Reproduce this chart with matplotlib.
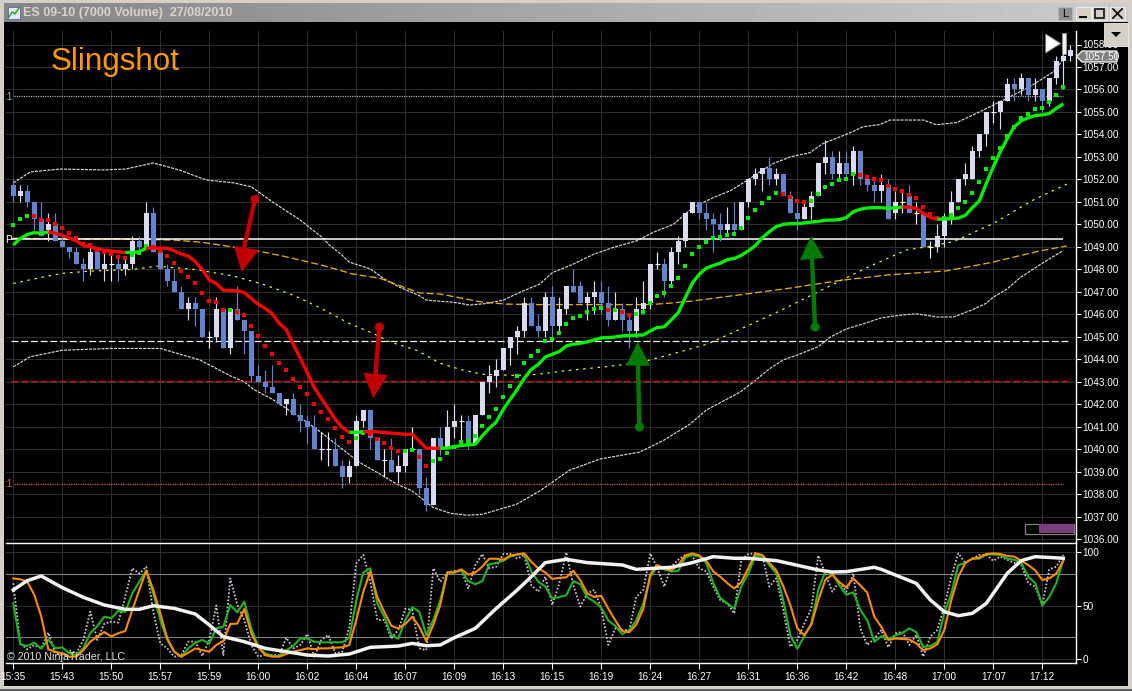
import matplotlib
matplotlib.use("Agg")
import matplotlib.pyplot as plt
from matplotlib.patches import Polygon, Rectangle, Circle
import numpy as np

plt.rcParams['font.family'] = ['Liberation Sans', 'DejaVu Sans']
plt.rcParams['lines.scale_dashes'] = False

W, H = 1132, 691

# ---------- candles (bar index = position in the list) ----------
open_ = [1051.75,1051.25,1051.5,1051,1050.25,1049.75,1050,1049.25,1049,1048.75,
 1048.25,1048,1048.75,1048,1048.25,1048.25,1048,1048.25,1049.25,1049,
 1050.5,1048.75,1048,1047.5,1047,1046.25,1046.5,1046.25,1045,1045,
 1046.25,1044.5,1046.25,1045.75,1045.25,1043.25,1043,1042.75,1042.5,1042,
 1042.25,1041.5,1041.25,1041,1040,1040,1040,1039.25,1038.75,1039.25,
 1041.25,1041.75,1040.5,1039.5,1039.5,1039,1039.25,1040,1040,1038.25,
 1037.5,1040.5,1040,1041,1041.25,1041.25,1040.25,1041.5,1043,1043.25,
 1043.5,1044.5,1045,1045.25,1046.5,1045.5,1045.25,1046.75,1045.5,1046.25,
 1047.25,1047.25,1046.5,1046.75,1047,1046.5,1045.75,1046.25,1045.75,1045.25,
 1046.25,1046.5,1048.25,1048.25,1047.5,1048.75,1049.25,1050.5,1051,1050.5,
 1050.25,1050,1049.75,1050,1049.75,1051,1052,1052.25,1052.5,1052,
 1052.25,1051.25,1050.5,1050.25,1050.75,1051.25,1052.75,1053,1052.25,1052.75,
 1052.25,1053.25,1052,1051.75,1051.5,1051.75,1050.5,1051,1051.25,1050.5,
 1050.5,1049,1049,1049.5,1050.25,1051,1052,1052,1053.25,1054,
 1055,1055,1055.5,1056.25,1056,1056.5,1055.75,1056,1055.5,1056.5,1057.25,1057.5]
close = [1051.25,1051.5,1051,1050.25,1049.5,1050,1049.25,1049,1048.75,1048.25,
 1048,1048.75,1048,1048.25,1048.25,1048,1048.25,1049.25,1049,1050.5,
 1048.75,1048,1047.5,1047,1046.25,1046.5,1046.25,1045,1045,1046.25,
 1044.5,1046.25,1045.75,1045.25,1043.25,1043,1042.75,1042.5,1042,1042.25,
 1041.5,1041.25,1041,1040,1040,1040,1039.25,1038.75,1039.25,1041.25,
 1041.75,1040.5,1039.5,1039.5,1039,1039.25,1040,1040,1038.25,1037.5,
 1040.5,1040,1041,1041.25,1041.25,1040.25,1041.5,1043,1043.25,1043.5,
 1044.5,1045,1045.25,1046.5,1045.5,1045.25,1046.75,1045.5,1046.25,1047.25,
 1047,1046.5,1046.75,1047,1046.5,1045.75,1046.25,1045.75,1045.25,1046.25,
 1046.5,1048.25,1048.25,1047.5,1048.75,1049.25,1050.5,1051,1050.5,1050.25,
 1050,1049.75,1050,1049.75,1051,1052,1052.25,1052.5,1052,1052.25,
 1051.25,1050.5,1050.25,1050.75,1051.25,1052.75,1053,1052.25,1052.75,1052.25,
 1053.25,1052,1051.75,1051.5,1051.75,1050.25,1051,1051,1050.5,1050.5,
 1049,1049,1049.5,1050.25,1051,1052,1052.25,1053.25,1054,1055,
 1055,1055.5,1056.25,1056,1056.5,1055.75,1056,1055.5,1056.5,1057.25,1057.5,1057.75]
high = [1052,1051.75,1051.75,1051,1051,1050.5,1050.5,1049.5,1049,1049,
 1048.5,1049,1049,1048.75,1048.75,1048.5,1048.5,1049.5,1049.5,1051,
 1050.75,1048.75,1048.25,1048,1047.25,1046.75,1046.75,1046.25,1045.25,1046.75,
 1046.25,1046.25,1047.25,1045.75,1045.25,1043.75,1043.5,1043.75,1042.5,1042.25,
 1042.5,1042,1041.5,1041.5,1040.75,1040.75,1040.5,1039.5,1039.5,1041.5,
 1041.75,1041.75,1040.5,1040,1040.5,1039.75,1040,1041,1040,1038.75,
 1040.5,1041,1041.75,1042,1041.5,1041.5,1041.5,1043,1043.75,1044,
 1044.5,1045,1045.5,1046.75,1046.75,1046,1047,1047.25,1046.75,1047.25,
 1048,1047.5,1047,1047.5,1047.5,1047.25,1047,1046.5,1046,1046.75,
 1047.5,1048.25,1048.75,1048.5,1049,1049.5,1050.5,1051,1051,1051,
 1050.5,1050.5,1050.75,1051,1051,1052,1052.5,1052.5,1053,1052.5,
 1052.25,1051.5,1051,1051,1051.5,1052.75,1053.75,1053.25,1053.25,1053.25,
 1053.5,1053.25,1052.25,1052,1052.25,1052,1051.5,1051.5,1051.75,1051,
 1050.5,1049.25,1050,1050.5,1051.5,1052,1052.75,1053.5,1054,1055,
 1055.5,1055.5,1056.5,1056.5,1056.75,1056.5,1056.5,1056,1056.5,1057.5,1058,1058]
low = [1051,1051,1050.75,1049.75,1049.5,1049.25,1049.25,1049,1048.5,1048.25,
 1047.5,1047.75,1048,1047.5,1047.5,1047.5,1047.75,1048,1048.75,1049,
 1048.75,1048,1047.25,1047,1046.25,1045.75,1045.5,1045,1044.5,1044.75,
 1044.5,1044.25,1045.75,1044.25,1043,1043,1042.5,1042.5,1042,1041.5,
 1041.5,1040.75,1040.25,1040,1039.5,1039.25,1039.25,1038.25,1038.5,1039.25,
 1041,1040,1039.5,1038.75,1039,1038.5,1039,1040,1038,1037.25,
 1037.5,1039.75,1040,1040.5,1040.25,1040,1040.25,1041.5,1042.5,1042.75,
 1043.5,1043.75,1044.25,1045,1045.5,1045,1045,1045,1045.25,1046,
 1047,1046.5,1045.75,1046,1046,1045.5,1045.75,1045.25,1044.5,1045,
 1046,1046.25,1048,1046.75,1047.25,1048.25,1049,1050.5,1050.25,1049.75,
 1048.75,1049.25,1049.5,1049.5,1049.75,1050.75,1051.75,1051.5,1051.75,1051.75,
 1051.25,1050.5,1049.75,1050.25,1050.25,1051.25,1052.25,1052,1052,1052,
 1051.75,1051.75,1051.5,1051,1051,1050.25,1050.25,1050.5,1050.5,1050,
 1049,1048.5,1048.75,1049,1050,1051,1051.75,1052,1053,1053.5,
 1054.5,1054.25,1055.5,1055.5,1055.75,1055.5,1055.5,1055,1055.25,1056.25,1056,1057.25]

# ---------- thick trend line ----------
trend = [1049.08,1049.37,1049.55,1049.63,1049.6,1049.66,1049.6,1049.51,1049.39,1049.27,
 1049.06,1049.0,1048.91,1048.85,1048.81,1048.78,1048.75,1048.75,1048.78,1048.94,
 1048.94,1048.94,1048.94,1048.82,1048.68,1048.59,1048.34,1047.99,1047.52,1047.37,
 1047.07,1047.06,1047.04,1046.97,1046.7,1046.44,1046.26,1046.02,1045.59,1045.32,
 1044.67,1044.04,1043.41,1042.74,1042.26,1041.8,1041.33,1040.96,1040.75,1040.75,
 1040.78,1040.78,1040.77,1040.74,1040.71,1040.69,1040.66,1040.66,1040.36,1040.04,
 1040.04,1040.04,1040.05,1040.11,1040.16,1040.19,1040.22,1040.59,1040.93,1041.21,
 1041.77,1042.22,1042.66,1043.15,1043.55,1043.77,1044.1,1044.22,1044.34,1044.59,
 1044.67,1044.71,1044.77,1044.86,1044.95,1044.96,1044.99,1045.04,1045.05,1045.07,
 1045.08,1045.26,1045.41,1045.44,1045.75,1046.07,1046.74,1047.38,1047.78,1048.05,
 1048.17,1048.27,1048.43,1048.48,1048.62,1048.82,1049.05,1049.4,1049.67,1049.9,
 1050,1050.03,1050.03,1050.06,1050.1,1050.13,1050.18,1050.19,1050.21,1050.3,
 1050.56,1050.67,1050.73,1050.74,1050.74,1050.71,1050.74,1050.77,1050.77,1050.7,
 1050.49,1050.31,1050.22,1050.24,1050.25,1050.28,1050.4,1050.74,1051.04,1051.82,
 1052.56,1053.23,1053.82,1054.34,1054.61,1054.74,1054.84,1054.87,1054.93,1055.16,1055.36]
trend_bear_runs = [(5, 16), (19, 48), (50, 61), (127, 132)]

# ---------- square dots ----------
dots = [1049.97,1050.23,1050.37,1050.37,1050.19,1050.19,1050.01,1049.83,1049.63,1049.39,
 1049.12,1049.06,1048.85,1048.77,1048.68,1048.53,1048.5,1048.63,1048.74,1049.03,
 1048.97,1048.81,1048.59,1048.28,1047.92,1047.65,1047.39,1046.94,1046.58,1046.55,
 1046.18,1046.18,1046.11,1045.96,1045.49,1045.04,1044.6,1044.24,1043.84,1043.51,
 1043.14,1042.77,1042.46,1042.03,1041.63,1041.36,1040.94,1040.56,1040.32,1040.5,
 1040.72,1040.66,1040.45,1040.28,1040.05,1039.92,1039.92,1039.96,1039.65,1039.25,
 1039.47,1039.56,1039.83,1040.1,1040.32,1040.36,1040.59,1041.03,1041.43,1041.79,
 1042.32,1042.81,1043.26,1043.84,1044.15,1044.37,1044.81,1044.9,1045.17,1045.57,
 1045.84,1045.93,1046.1,1046.24,1046.28,1046.19,1046.19,1046.1,1045.97,1046.01,
 1046.1,1046.5,1046.82,1046.95,1047.26,1047.62,1048.15,1048.69,1049,1049.22,
 1049.4,1049.44,1049.53,1049.58,1049.85,1050.26,1050.62,1050.97,1051.15,1051.38,
 1051.35,1051.21,1051.04,1050.99,1051.04,1051.35,1051.66,1051.79,1051.97,1052.01,
 1052.24,1052.19,1052.1,1052.01,1051.97,1051.7,1051.57,1051.48,1051.3,1051.17,
 1050.77,1050.46,1050.28,1050.28,1050.41,1050.72,1050.99,1051.39,1051.88,1052.46,
 1052.95,1053.39,1053.93,1054.33,1054.73,1054.9,1055.13,1055.17,1055.44,1055.75,1056.1]
dot_bear_runs = [(3, 16), (20, 30), (32, 48), (51, 55), (58, 59), (85, 85), (87, 88), (110, 113), (121, 132)]

# ---------- bands and averages (bar, price) ----------
upper_x = [0,2.4,6.7,13,16,20,23.7,27.6,31.4,34,37,41,44,45.2,46.7,48,51,53,55.2,58,59,63,65.2,67.6,70,72.4,75.2,77,80,82.9,85.7,89,91.4,94.3,97.1,100,102.4,103.8,106.7,108.6,111,113.8,115.7,119,121.4,123.8,125.2,130,131.9,134.8,138,141.9,145.2,148.6,149.8]
upper_y = [1051.84,1052.33,1052.46,1052.42,1052.46,1052.73,1052.42,1051.97,1051.85,1051.67,1051,1050.19,1049.45,1049.07,1048.7,1048.32,1048.02,1047.57,1047.2,1046.83,1046.63,1046.53,1046.41,1046.48,1046.63,1046.98,1047.34,1047.85,1048.23,1048.67,1048.97,1049.26,1049.64,1050,1050.75,1051.19,1051.49,1051.75,1052.34,1052.71,1053,1053.19,1053.6,1054,1054.34,1054.44,1054.64,1054.64,1054.43,1054.53,1055,1055.6,1056.12,1056.79,1057.26]
lower_x = [0,2.4,7,14,21,26.7,31,33,34.3,37,41,44,46.7,49.5,52,54.8,57,60,62.4,64.8,67,71.9,75.2,79.5,83.8,89.5,93,96.7,99,103.8,105.7,108,110,112,115,116.7,119,121.4,124,127,129,132,134.3,137,139,140,142,143.8,146.7,150]
lower_y = [1043.66,1044.11,1044.4,1044.48,1044.48,1043.96,1043.26,1043,1042.66,1042.22,1041.4,1040.74,1040.07,1039.4,1038.96,1038.44,1038.14,1037.4,1037.15,1037.06,1037.1,1037.55,1038.14,1039.07,1039.56,1039.87,1040.41,1041.12,1041.74,1042.53,1042.98,1043.57,1043.97,1044.19,1044.56,1044.98,1045.35,1045.57,1045.84,1045.97,1046.02,1045.88,1045.88,1046.2,1046.49,1046.76,1047.13,1047.62,1048.21,1048.84]
orange_x = [0,10,15,23,27,31.4,35,38.5,44,48.5,52.4,58,61,64,67,70.5,75,85,91,94,96.7,101,110.9,118,125,133.3,139.5,146.7,150.5]
orange_y = [1049.38,1049.35,1049.35,1049.3,1049.2,1048.99,1048.81,1048.59,1048.19,1047.79,1047.6,1046.95,1046.9,1046.72,1046.54,1046.45,1046.43,1046.43,1046.43,1046.5,1046.58,1046.75,1047.16,1047.5,1047.75,1047.93,1048.29,1048.82,1049.04]
yellow_x = [0,4,7,11,17,20.5,26,31.5,36,40,44,48,51.4,53.8,57.6,61,63.8,67,71.9,75,78.6,84.8,89.5,94,99,103.8,109.5,121.9,127.6,130.5,134.3,140,145.7,150.5]
yellow_y = [1047.37,1047.64,1047.82,1047.92,1047.99,1048.14,1047.99,1047.7,1047.3,1046.85,1046.26,1045.59,1045.15,1044.77,1044.4,1043.82,1043.55,1043.33,1043.28,1043.33,1043.48,1043.67,1043.85,1044.22,1044.66,1045.33,1046.15,1048.07,1048.86,1049,1049.23,1050.04,1051.08,1051.79]

# ---------- horizontal levels ----------
level_pivot = 1049.33
level_dashed = 1044.79
level_red = 1043.03
level_dot_low = 1038.47
level_dot_high = 1055.69

# ---------- lower panel ----------
stoch_green = [52,13.5,12,15,9.4,18,9.7,10.7,5,3.4,
 9.7,24,30.7,39.5,38,45,44,61.4,72.4,82.8,
 61.4,36.4,17.6,6.6,1.9,9.7,15,17.6,14.4,28.5,
 30,50.5,43.6,53.6,28.5,11.3,5,2.5,2.5,8,
 12,19,19,16,15.4,15.4,15.4,15.4,19.7,55,
 81,85,52,39.5,22,18.8,36.4,48.3,44.2,22.3,
 36.4,55,81,81,83,73,70,73,88.7,90,
 92,96,98,98.4,82,72.4,67.7,56.7,58,59.6,
 73,70,57.7,53.6,48,36,30.7,23,27,36,
 52,77,86.5,84,82,82.5,95,97.5,96,90,
 71,57,52,47,68,80,96.6,96.6,88,80,
 55,22,9.4,21,33,64.6,82,80,69,60,
 62.4,46,36,16,21,18,22,24,28.5,25,
 11,12,15.7,43,61,88,90,94,94,98,
 98,97.5,94,93,90,77,71,50,58,71,93]
stoch_orange = [75.5,74.6,72.4,60,39.5,8.8,6.6,5,1.9,1.9,
 8,16,20.7,25,21,24,26,45.8,64.6,82.8,
 64.6,42.6,19,6.6,1.9,5.6,9.7,8,6.6,12.9,
 16.6,32.6,33,46.7,24,10.7,3.4,1.9,1.9,4.4,
 6.6,8,9.7,9,9.7,9.7,10.3,10.7,12.9,36.4,
 63,81.8,58,44,31,28.5,32.6,39.5,30,16.6,
 31.7,50.5,81,81,84,79,81,86.5,94,94,
 93,97,98,99,91,85,81,75,76,76.5,
 82.5,74,61.4,58,59,47,36,26,25,32,
 47,79,88,85,83,88,97,99,97,92,
 82,77,71,66,72,85,99,97.5,90,83,
 68,50.5,28.5,22,32,55,74,79,72,67,
 75.5,69,62,39.5,30,17.6,19,18.5,18,14.4,
 8,9.7,13.5,27,55,77,90,94,95,98.4,
 99,98.4,96.6,96,92,88,83,74,75.5,80,92]
stoch_dotted = [70.9,14.4,8.8,12.9,9.7,24.5,5,3.4,8,5,
 17.6,44.2,17.6,33,34.8,33.9,58.3,85,80,86.5,
 44.2,14.4,9.7,1.9,3.4,16,16,2.5,17.6,50,
 3.4,75.5,50.5,36.4,12.9,1.9,3.4,3.4,3.4,19.7,
 9.7,12.9,23.2,1.9,17.6,22.3,5,6.6,30,89.7,
 97.5,72.4,36.4,36.4,19,27,47,45.8,9.7,8,
 85,72.4,81,82.5,83,66,88,98.4,85,86.5,
 98.4,98.4,94,97.5,69,63,77,50.5,71,100,
 69,49,61.4,64.6,47,12.9,28.5,27,27,58,
 64.6,99,85,67.7,86.5,93,97.5,96.6,85,82,
 67.7,55,52,42.6,93,98.4,99,97.5,67.7,75.5,
 45.8,11.3,17.6,33,47,97,80,63,72.4,63,
 80,28.5,12.9,19,27,10.7,23.8,25.4,12.9,22.3,
 1.9,20.7,27,49,77,99,90,94,97.5,97.5,
 92,96,93,90,88,71,67.7,50,84,86.5,97.5]
stoch_slow_x = [0,2,4,7,10,13,16,18,20,23,26,28,30,33,36,39,42,45,48,51,55,57,59,61,63,66,69,72,74,76,79,82,87,89,94,97,100,103,105,109,112,115,117,119,123,124,126,129,131,133,135,137,139,142,144,146,150]
stoch_slow_y = [64.6,73.4,77.7,66.8,57.7,50.5,46.4,46.4,49.8,47.3,42,31.7,20.7,16,9.7,6.6,3.4,2.5,4.4,10.7,11.9,14.4,12.2,12.9,19.7,28.5,47.3,64.6,77.1,90.3,93.4,90.3,88.1,84,85.9,90.3,95.9,94.4,94.4,92.2,87.8,83.4,81.5,81.8,85.9,84,78.7,70.8,55.2,44.2,40.4,42.6,52,80.3,92.2,95.9,94.4]

time_labels = ['15:35','15:43','15:50','15:57','15:59','16:00','16:02','16:04','16:07','16:09','16:13',
               '16:15','16:19','16:24','16:27','16:31','16:36','16:42','16:48','17:00','17:07','17:12']
price_ticks = list(range(1036, 1059))
osc_ticks = [0, 50, 100]

# ---------- colours ----------
UP, DOWN = '#D9DCF0', '#6484CC'
GRID = '#2E2E2E'
CHROME = '#D4D0C8'

fig = plt.figure(figsize=(W / 100, H / 100), dpi=100, facecolor='black')

def box(l, t, r, b):
    return [l / W, 1 - b / H, (r - l) / W, (b - t) / H]

# x scale: bar 0 at 13.3 px, 7 px per bar
AX_L, AX_R = 6, 1075.5
xlim = ((AX_L - 13.3) / 7, (AX_R - 13.3) / 7)

# background chrome
bg = fig.add_axes([0, 0, 1, 1], zorder=0)
bg.set_xlim(0, W); bg.set_ylim(H, 0); bg.axis('off')
bg.add_patch(Rectangle((0, 0), W, 3, fc=CHROME, lw=0))
bg.add_patch(Rectangle((0, 0), 4, H, fc=CHROME, lw=0))
bg.add_patch(Rectangle((1128, 0), 4, H, fc=CHROME, lw=0))
bg.add_patch(Rectangle((0, 686), W, 3, fc=CHROME, lw=0))
bg.add_patch(Rectangle((0, 689), W, 2, fc='#606060', lw=0))
grad = np.linspace(0.52, 0.80, 256).reshape(1, -1)
bg.imshow(grad, extent=(4, 1128, 22, 3), aspect='auto', cmap='gray', vmin=0, vmax=1)
bg.set_xlim(0, W); bg.set_ylim(H, 0)
bg.text(23, 13, 'ES 09-10 (7000 Volume)  27/08/2010', color='#D8D4CC', fontsize=9.0,
        fontweight='bold', va='center', ha='left')

# ---------- main panel ----------
ax = fig.add_axes(box(AX_L, 31, AX_R, 542), zorder=2, facecolor='black')
ax.set_xlim(*xlim)
ax.set_ylim(1058 - (542 - 44.5) / 22.48, 1058 + (44.5 - 31) / 22.48)
ax.set_xticks(np.arange(0, 152, 7))
ax.tick_params(axis='x', length=0, labelbottom=False)
ax.yaxis.tick_right()
ax.set_yticks(price_ticks)
ax.set_yticklabels([f'{p}.00' for p in price_ticks], color='white', fontsize=7.2)
ax.tick_params(axis='y', length=3.6, width=0.8, color='white', pad=1.5)
ax.grid(True, color=GRID, lw=0.75, zorder=0)
ax.set_axisbelow(True)
for s in ['top', 'left', 'bottom']:
    ax.spines[s].set_visible(False)
ax.spines['right'].set_color('white')
ax.spines['right'].set_linewidth(1.0)

ax.plot(upper_x, upper_y, color='#D8D8D8', lw=0.85, ls=(0, (2.2, 0.8)), zorder=2)
ax.plot(lower_x, lower_y, color='#D8D8D8', lw=0.85, ls=(0, (2.2, 0.8)), zorder=2)
ax.plot(orange_x, orange_y, color='#E8A818', lw=0.95, ls=(0, (5, 2.2)), zorder=2)
ax.plot(yellow_x, yellow_y, color='#FFFF00', lw=0.85, ls=(0, (1.8, 3.4)), zorder=2)

ax.hlines(level_pivot, -0.3, 150, color='white', lw=1.1, zorder=3)
ax.hlines(level_dashed, -0.3, 150.8, color='#F0F0F0', lw=0.9, ls=(0, (5, 2)), zorder=3)
ax.hlines(level_red, -0.3, 150.8, color='#D81010', lw=0.95, ls=(0, (5, 2)), zorder=3)
ax.hlines(level_dot_low, 0.1, 150, color='#D86868', lw=0.9, ls=(0, (0.8, 0.9)), zorder=3)
ax.hlines(level_dot_high, 0.1, 150, color='#C0C0C0', lw=0.9, ls=(0, (0.8, 0.9)), zorder=3)

# candles
op, cl, hi, lo = map(np.asarray, (open_, close, high, low))
idx = np.arange(len(op))
colors = np.where(cl > op, UP, np.where(cl < op, DOWN, '#F0F0FA'))
ax.vlines(idx, lo, hi, colors=colors, lw=0.85, zorder=4)
ax.bar(idx, np.abs(cl - op), bottom=np.minimum(op, cl), width=5.2 / 7, color=colors, lw=0, zorder=4)
dj = cl == op
ax.hlines(cl[dj], idx[dj] - 2.5 / 7, idx[dj] + 2.5 / 7, colors='#F0F0FA', lw=0.85, zorder=4)

# dots
dot_arr = np.asarray(dots)
dot_idx = np.arange(len(dot_arr))
dot_bear = np.zeros(len(dot_arr), bool)
for a, b in dot_bear_runs:
    dot_bear[a:b + 1] = True
ax.scatter(dot_idx[~dot_bear], dot_arr[~dot_bear], marker='s', s=11, c='#00EE00', linewidths=0, zorder=6)
ax.scatter(dot_idx[dot_bear], dot_arr[dot_bear], marker='s', s=11, c='#FF0000', linewidths=0, zorder=6)

# trend line
tr = np.asarray(trend)
tr_bear = np.zeros(len(tr) - 1, bool)
for a, b in trend_bear_runs:
    tr_bear[a:b] = True
start = 0
for k in range(1, len(tr)):
    if k == len(tr) - 1 or tr_bear[k] != tr_bear[start]:
        ax.plot(np.arange(start, k + 1), tr[start:k + 1], color='#FF0000' if tr_bear[start] else '#00F000',
                lw=2.4, solid_capstyle='butt', zorder=7)
        start = k

# ---------- oscillator panel ----------
ax2 = fig.add_axes(box(AX_L, 543, AX_R, 663.3), zorder=2, facecolor='black')
ax2.set_xlim(*xlim)
ax2.set_ylim(-(663.3 - 658.7) / 1.0633, 100 + (552.3 - 543) / 1.0633)
ax2.set_xticks(np.arange(0, 152, 7))
ax2.set_xticklabels(time_labels, color='white', fontsize=7.2)
ax2.tick_params(axis='x', length=4.3, width=0.8, color='white', pad=2)
ax2.yaxis.tick_right()
ax2.set_yticks(osc_ticks)
ax2.set_yticklabels([str(t) for t in osc_ticks], color='white', fontsize=7.2)
ax2.tick_params(axis='y', length=3.6, width=0.8, color='white', pad=1.5)
ax2.grid(True, color=GRID, lw=0.75)
ax2.set_axisbelow(True)
ax2.spines['left'].set_visible(False)
for s in ['top', 'bottom', 'right']:
    ax2.spines[s].set_color('white')
    ax2.spines[s].set_linewidth(1.0)
ax2.axhline(80, color='#808080', lw=0.8, zorder=1)
ax2.axhline(20, color='#808080', lw=0.8, zorder=1)

ax2.plot(np.arange(len(stoch_dotted)), stoch_dotted, color='#D8C4DC', lw=1.3, ls=(0, (1.2, 1.4)), zorder=3)
ax2.plot(np.arange(len(stoch_green)), stoch_green, color='#20B424', lw=1.5, zorder=4)
ax2.plot(np.arange(len(stoch_orange)), stoch_orange, color='#FF8C00', lw=1.5, zorder=5)
ax2.plot(stoch_slow_x, stoch_slow_y, color='#F2F2F2', lw=2.5, zorder=6)

# ---------- overlay: annotations and window controls ----------
ui = fig.add_axes([0, 0, 1, 1], zorder=5, facecolor='none')
ui.set_xlim(0, W); ui.set_ylim(H, 0); ui.axis('off')

ui.text(51, 70, 'Slingshot', color='#FF9900', fontsize=22.6, va='baseline', ha='left')
ui.text(8, 240, 'P', color='white', fontsize=7.2, va='center', ha='center')
ui.text(8, 97, ':1', color='#B0B0B0', fontsize=7.2, va='center', ha='center')
ui.text(8, 483.5, ':1', color='#D06868', fontsize=7.2, va='center', ha='center')
ui.text(7, 657, '\u00a9 2010 NinjaTrader, LLC', color='#E0E0E0', fontsize=7.7, va='center', ha='left')

def arrow(color, tail, neck, head):
    ui.plot([tail[0], neck[0]], [tail[1], neck[1]], color=color, lw=3.2, solid_capstyle='butt')
    ui.add_patch(Circle(tail, 4.6, fc=color, lw=0))
    ui.add_patch(Polygon(head, closed=True, fc=color, lw=0))

arrow('#C00000', (255, 199.5), (244, 248), [(234, 246), (259, 250), (241.7, 272)])
arrow('#C00000', (379.5, 327), (375.5, 374), [(363.3, 372.7), (387.7, 375), (373.3, 398.3)])
arrow('#007A00', (639.5, 427), (638, 365), [(626, 365.7), (650, 365.7), (637.7, 341.7)])
arrow('#007A00', (815, 327), (812, 258), [(800, 260), (824, 258), (811, 236)])

# purple box
ui.add_patch(Rectangle((1024.5, 523.5), 49.5, 10, fc='black', ec='#808080', lw=0.9))
ui.add_patch(Rectangle((1039, 524), 35, 9, fc='#7A3F7A', lw=0))

# play marker
ui.add_patch(Polygon([(1045.7, 34), (1045.7, 53), (1060.7, 43.5)], closed=True, fc='white', ec='#808080', lw=0.6))
ui.add_patch(Rectangle((1062.3, 33), 3.5, 21, fc='#F0F0F0', ec='#A0A0A0', lw=0.5))

# last-price tag
ui.add_patch(Polygon([(1076.5, 56.5), (1082, 51), (1117, 51), (1117, 62), (1082, 62)], closed=True,
                     fc='#808080', ec='white', lw=0.9))
ui.text(1083.5, 56.7, '1057.50', color='white', fontsize=7.2, va='center', ha='left')

# dropdown button
ui.add_patch(Rectangle((1104, 23), 24, 23, fc=CHROME, ec='#F0F0F0', lw=0.6))
ui.add_patch(Polygon([(1111, 32), (1121, 32), (1116, 37)], closed=True, fc='black', lw=0))

# window buttons
ui.add_patch(Rectangle((1058, 7), 14, 13, fc='#909090', ec='#B8B8B8', lw=0.6))
ui.text(1065, 13.5, 'L', color='black', fontsize=8, va='center', ha='center')
for l in (1076, 1092, 1110):
    ui.add_patch(Rectangle((l, 7), 15, 13, fc=CHROME, ec='#F0F0F0', lw=0.6))
ui.plot([1080, 1086], [17, 17], color='black', lw=1.4)
ui.add_patch(Rectangle((1095, 9), 9, 9, fc='none', ec='black', lw=1.1))
ui.plot([1113, 1122], [9, 18], color='black', lw=1.2)
ui.plot([1113, 1122], [18, 9], color='black', lw=1.2)

# title icon
ui.add_patch(Rectangle((8, 7), 12, 12, fc='#E8E8F8', ec='#5070B0', lw=0.6))
ui.plot([9, 12, 15, 19], [17, 12, 14, 8], color='#20A020', lw=1)

fig.savefig('out.png', dpi=100, facecolor='black')
